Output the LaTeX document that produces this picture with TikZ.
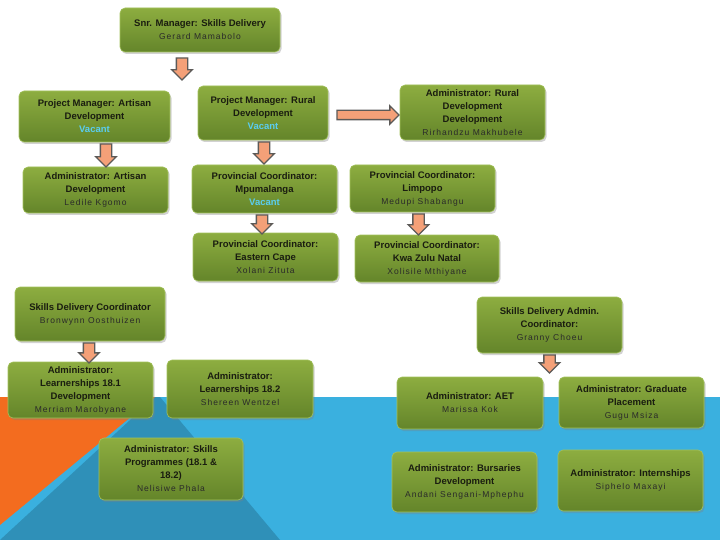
\documentclass[tikz,border=0pt]{standalone}
\usepackage{fontspec}
\setmainfont{Liberation Sans}
\newfontfamily\namefont[LetterSpace=12]{Liberation Sans}
\usetikzlibrary{shapes.arrows,shadows,calc,positioning}
\definecolor{boxtop}{HTML}{8DAD40}
\definecolor{boxbot}{HTML}{64852A}
\definecolor{boxline}{HTML}{A3C25C}
\definecolor{titleink}{HTML}{1A1D10}
\definecolor{nameink}{HTML}{2A2A2A}
\definecolor{vacantblue}{HTML}{5ACDF0}
\definecolor{arrowfill}{HTML}{F4A078}
\definecolor{arrowline}{HTML}{5C5A58}
\definecolor{bgorange}{HTML}{F36C1F}
\definecolor{bgdark}{HTML}{2F90B8}
\definecolor{bglight}{HTML}{3AB0DF}
\newcommand{\who}[1]{{\namefont\mdseries\fontsize{8.5}{13}\selectfont\color{nameink}#1}}
\newcommand{\vacant}{{\color{vacantblue}Vacant}}
\tikzset{
  orgbox/.style={rounded corners=5pt,top color=boxtop,bottom color=boxbot,
    draw=boxline,line width=0.6pt,align=center,minimum width=145,inner sep=2pt,
    font=\fontsize{9.5}{13}\selectfont\bfseries,text=titleink,
    drop shadow={shadow xshift=1.5pt,shadow yshift=-2pt,opacity=0.35}},
  blockarrow/.style={single arrow,fill=arrowfill,draw=arrowline,line width=1.4pt,
    single arrow head extend=4.5,single arrow tip angle=90,anchor=tail},
  downarrow/.style={blockarrow,shape border rotate=270,inner sep=5pt,minimum height=22},
  rightarrow/.style={blockarrow,shape border rotate=0,inner sep=4pt,minimum height=62}
}
\begin{document}
\begin{tikzpicture}[x=1pt,y=-1pt]
  \useasboundingbox (0,0) rectangle (720,540);
  % Background
  \fill[white] (0,0) rectangle (720,540);
  \fill[bglight] (0,397) rectangle (720,540);
  \fill[bgdark] (155,397) -- (160,397) -- (280,540) -- (0,540) -- cycle;
  \fill[bgorange] (0,397) -- (155,397) -- (0,525) -- cycle;
  % Top level
  \node[orgbox,minimum width=160,minimum height=44] (snr) at (200,30)
    {Snr. Manager: Skills Delivery\\\who{Gerard Mamabolo}};
  % Artisan and rural development
  \node[orgbox,minimum width=151,minimum height=51] (pmart) at (94.5,116.5)
    {Project Manager: Artisan\\Development\\\vacant};
  \node[orgbox,minimum width=130,minimum height=54] (pmrur) at (263,113)
    {Project Manager: Rural\\Development\\\vacant};
  \node[orgbox,minimum height=55] (admrur) at (472.5,112.5)
    {Administrator: Rural\\Development\\Development\\\who{Rirhandzu Makhubele}};
  \node[orgbox,minimum height=46] (admart) at (95.5,190)
    {Administrator: Artisan\\Development\\\who{Ledile Kgomo}};
  \node[orgbox,minimum height=48] (pcmp) at (264.5,189)
    {Provincial Coordinator:\\Mpumalanga\\\vacant};
  \node[orgbox,minimum height=47] (pclim) at (422.5,188.5)
    {Provincial Coordinator:\\Limpopo\\\who{Medupi Shabangu}};
  \node[orgbox,minimum height=48] (pcec) at (265.5,257)
    {Provincial Coordinator:\\Eastern Cape\\\who{Xolani Zituta}};
  \node[orgbox,minimum width=144,minimum height=47] (pckzn) at (427,258.5)
    {Provincial Coordinator:\\Kwa Zulu Natal\\\who{Xolisile Mthiyane}};
  % Skills delivery
  \node[orgbox,minimum width=150,minimum height=54] (sdc) at (90,314)
    {Skills Delivery Coordinator\\\who{Bronwynn Oosthuizen}};
  \node[orgbox,minimum height=56] (lea1) at (80.5,390)
    {Administrator:\\Learnerships 18.1\\Development\\\who{Merriam Marobyane}};
  \node[orgbox,minimum width=146,minimum height=58] (lea2) at (240,389)
    {Administrator:\\Learnerships 18.2\\\who{Shereen Wentzel}};
  \node[orgbox,minimum width=144,minimum height=62] (skp) at (171,469)
    {Administrator: Skills\\Programmes (18.1 \&\\18.2)\\\who{Nelisiwe Phala}};
  \node[orgbox,minimum height=56] (sdac) at (549.5,325)
    {Skills Delivery Admin.\\Coordinator:\\\who{Granny Choeu}};
  \node[orgbox,minimum width=146,minimum height=52] (aet) at (470,403)
    {Administrator: AET\\\who{Marissa Kok}};
  \node[orgbox,minimum height=51] (grad) at (631.5,402.5)
    {Administrator: Graduate\\Placement\\\who{Gugu Msiza}};
  \node[orgbox,minimum height=60] (burs) at (464.5,482)
    {Administrator: Bursaries\\Development\\\who{Andani Sengani-Mphephu}};
  \node[orgbox,minimum height=61] (intern) at (630.5,480.5)
    {Administrator: Internships\\\who{Siphelo Maxayi}};
  % Block arrows
  \node[downarrow] (snrarrow) at ($(snr.south)+(-18,5)$) {};
  \node[downarrow,minimum height=23] (artarrow) at ($(pmart.south)+(11.5,1)$) {};
  \node[downarrow] (rurarrow) at ($(pmrur.south)+(1,1)$) {};
  \node[downarrow,minimum height=19] (mparrow) at ($(pcmp.south)+(-2.5,1)$) {};
  \node[downarrow,minimum height=21] (limarrow) at ($(pclim.south)+(-4,1)$) {};
  \node[downarrow,minimum height=20] (sdcarrow) at ($(sdc.south)+(-1,1)$) {};
  \node[downarrow,minimum height=18] (sdacarrow) at ($(sdac.south)+(0,1)$) {};
  \node[rightarrow] (ruralarrow) at ($(pmrur.east)+(8,2)$) {};
\end{tikzpicture}
\end{document}
